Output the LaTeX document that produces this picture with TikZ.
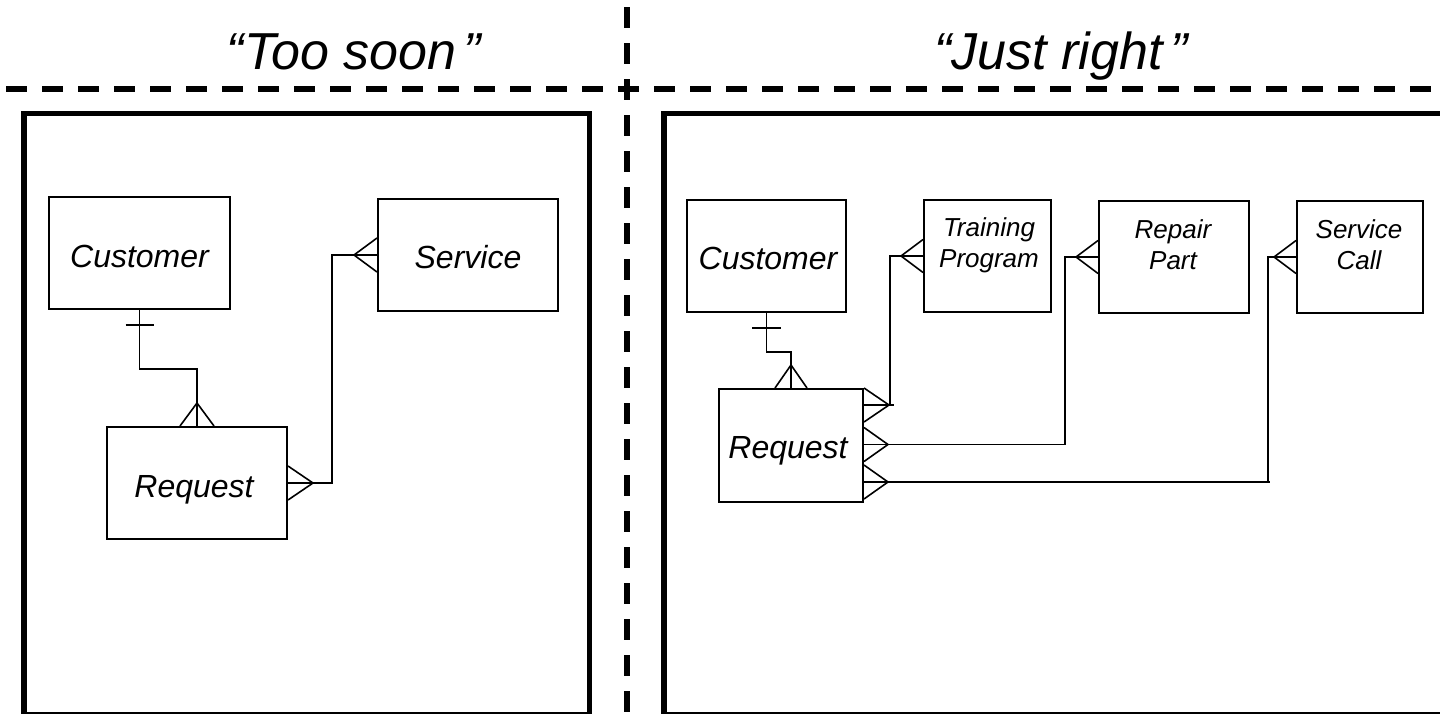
\documentclass[tikz,border=0pt]{standalone}
\usepackage{fontspec}
\setmainfont{Liberation Sans}
\usetikzlibrary{calc}
\begin{document}
\begin{tikzpicture}[x=1pt,y=-1pt,
  panel/.style={line width=5.5pt},
  divider/.style={line width=5.5pt, dash pattern=on 20.5pt off 15.5pt},
  entity/.style={draw, line width=2pt, inner sep=0pt},
  conn/.style={line width=1.6pt},
  lbl/.style={font=\fontsize{32}{38}\selectfont\itshape, inner sep=0pt, text height=22.9pt, text depth=0pt},
  lbltwo/.style={font=\fontsize{26}{31}\selectfont\itshape, inner sep=0pt, align=center, anchor=north},
  heading/.style={font=\fontsize{52}{60}\selectfont\itshape, inner sep=0pt, anchor=base}]
\useasboundingbox (0,0) rectangle (1440,713);
\clip (0,0) rectangle (1440,713);

% dividers
\draw[divider] (6,89) -- (1440,89);
\draw[divider] (627,7) -- (627,713);

% headings
\node[heading] (tsoon) at (354,69) {“Too soon\kern0.15em”};
\node[heading] (tright) at (1061,69) {“Just right\kern0.15em”};

% panels
\draw[panel] (24,113.5) rectangle (589.5,714.5);
\draw[panel] (664,113.5) rectangle (1446,714.5);

% ---------- left diagram ----------
\node[entity, minimum width=181pt, minimum height=112pt] (c1) at (139.5,253) {};
\node[entity, minimum width=180pt, minimum height=112pt] (s1) at (468,255) {};
\node[entity, minimum width=180pt, minimum height=112pt] (r1) at (197,483) {};
\node[lbl] (c1t) at (139.5,256) {Customer};
\node[lbl] (s1t) at (468,257.5) {Service};
\node[lbl] (r1t) at (194,486) {Request};

% Customer -> Request
\draw[conn] (c1.south) -- ++(0,59) -| (r1.north);
\draw[conn] ($(c1.south)+(-14,15)$) -- ($(c1.south)+(14,15)$);
\draw[conn] ($(r1.north)+(-17,0)$) -- ($(r1.north)+(0,-23)$) -- ($(r1.north)+(17,0)$);

% Request -> Service
\draw[conn] (r1.east) -- ++(44,0) |- (s1.west);
\draw[conn] ($(r1.east)+(0,-17)$) -- ($(r1.east)+(25,0)$) -- ($(r1.east)+(0,17)$);
\draw[conn] ($(s1.west)+(0,-17)$) -- ($(s1.west)+(-23,0)$) -- ($(s1.west)+(0,17)$);

% ---------- right diagram ----------
\node[entity, minimum width=159pt, minimum height=112pt] (c2) at (766.5,256) {};
\node[entity, minimum width=127pt, minimum height=112pt] (t2) at (987.5,256) {};
\node[entity, minimum width=150pt, minimum height=112pt] (p2) at (1174,257) {};
\node[entity, minimum width=126pt, minimum height=112pt] (sc2) at (1360,257) {};
\node[entity, minimum width=144pt, minimum height=113pt] (r2) at (791,445.5) {};

\node[lbl] (c2t) at (768,258) {Customer};
\node[lbl] (r2t) at (788,447.5) {Request};
\node[lbltwo] (t2t) at (989,217) {Training\\Program};
\node[lbltwo] (p2t) at (1173,219) {Repair\\Part};
\node[lbltwo] (sc2t) at (1359,219) {Service\\Call};

% Customer -> Request
\draw[conn] (c2.south) -- ++(0,39) -| (r2.north);
\draw[conn] ($(c2.south)+(-14.5,15)$) -- ($(c2.south)+(14.5,15)$);
\draw[conn] ($(r2.north)+(-16,0)$) -- ($(r2.north)+(0,-23)$) -- ($(r2.north)+(16,0)$);

% attachment points on Request's right side
\coordinate (rt) at ($(r2.north east)+(0,17)$);
\coordinate (rm) at ($(r2.east)+(0,-1)$);
\coordinate (rb) at ($(r2.east)+(0,36.5)$);

% Request -> Training Program
\draw[conn] (rt) -- ++(30,0) ++(-4,0) |- (t2.west);
\draw[conn] ($(rt)+(0,-17)$) -- ($(rt)+(25,0)$) -- ($(rt)+(0,17)$);
\draw[conn] ($(t2.west)+(0,-16.5)$) -- ($(t2.west)+(-22,0)$) -- ($(t2.west)+(0,16.5)$);

% Request -> Repair Part
\draw[conn] (rm) -- ++(201,0) |- (p2.west);
\draw[conn] ($(rm)+(0,-17)$) -- ($(rm)+(24,0)$) -- ($(rm)+(0,17)$);
\draw[conn] ($(p2.west)+(0,-16.5)$) -- ($(p2.west)+(-22,0)$) -- ($(p2.west)+(0,16.5)$);

% Request -> Service Call
\draw[conn] (rb) -- ++(406,0) ++(-2,0) |- (sc2.west);
\draw[conn] ($(rb)+(0,-17)$) -- ($(rb)+(24,0)$) -- ($(rb)+(0,17)$);
\draw[conn] ($(sc2.west)+(0,-16.5)$) -- ($(sc2.west)+(-22,0)$) -- ($(sc2.west)+(0,16.5)$);
\end{tikzpicture}
\end{document}
